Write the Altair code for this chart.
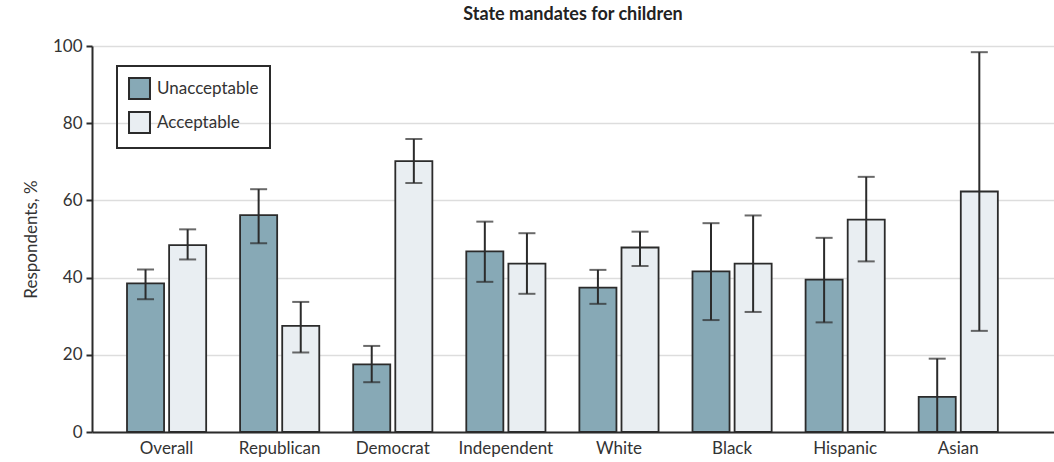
import altair as alt
import pandas as pd

categories = ["Overall", "Republican", "Democrat", "Independent", "White", "Black", "Hispanic", "Asian"]
series = ["Unacceptable", "Acceptable"]

unacc_val = [38.5, 56.2, 17.5, 46.8, 37.4, 41.6, 39.5, 9.1]
unacc_lo = [34.4, 48.9, 12.9, 38.9, 33.2, 29.0, 28.4, 0.0]
unacc_hi = [42.1, 62.9, 22.3, 54.5, 42.0, 54.1, 50.3, 19.0]

acc_val = [48.4, 27.5, 70.2, 43.6, 47.8, 43.6, 55.0, 62.3]
acc_lo = [44.7, 20.6, 64.5, 35.8, 43.0, 31.1, 44.2, 26.2]
acc_hi = [52.5, 33.7, 75.9, 51.5, 51.9, 56.1, 66.1, 98.4]

rows = []
for i, c in enumerate(categories):
    rows.append({"cat": c, "series": series[0], "value": unacc_val[i], "lo": unacc_lo[i], "hi": unacc_hi[i]})
    rows.append({"cat": c, "series": series[1], "value": acc_val[i], "lo": acc_lo[i], "hi": acc_hi[i]})
df = pd.DataFrame(rows)

FONT = "Lato"
DARK = "#2b2b2b"

x_enc = alt.X("cat:N", sort=categories, title=None,
              scale=alt.Scale(paddingInner=0.30, paddingOuter=0.403, align=0.384),
              axis=alt.Axis(labelAngle=0, ticks=False, domainColor=DARK, domainWidth=2,
                            labelFontSize=17, labelColor="#333333", labelPadding=8,
                            labelFont=FONT, grid=False))
xo_enc = alt.XOffset("series:N", sort=series,
                     scale=alt.Scale(domain=series, paddingInner=0.12, paddingOuter=0))

y_scale = alt.Scale(domain=[0, 100], nice=False)

bars = alt.Chart(df).mark_bar(stroke=DARK, strokeWidth=1.8).encode(
    x=x_enc,
    xOffset=xo_enc,
    y=alt.Y("value:Q", scale=y_scale, title="Respondents, %",
            axis=alt.Axis(values=[0, 20, 40, 60, 80, 100], grid=True, gridColor="#dddddd",
                          gridWidth=1.5, domainColor=DARK, domainWidth=2, tickColor=DARK,
                          tickWidth=2, tickSize=6, labelFontSize=17, labelColor="#333333",
                          labelFont=FONT, labelPadding=4, titleFont=FONT, titleFontSize=17,
                          titleFontWeight="normal", titleColor="#333333", titlePadding=12)),
    color=alt.Color("series:N", sort=series,
                    scale=alt.Scale(domain=series, range=["#87a9b6", "#e9eef2"]),
                    legend=alt.Legend(title=None, orient="none", legendX=25, legendY=20,
                                      strokeColor=DARK, padding=11,
                                      symbolType="square", symbolSize=440,
                                      symbolStrokeColor=DARK, symbolStrokeWidth=2,
                                      symbolOpacity=1,
                                      labelFontSize=17, labelFont=FONT, labelColor="#333333",
                                      rowPadding=5, labelOffset=6)),
)

rules = alt.Chart(df).mark_rule(color=DARK, strokeWidth=2).encode(
    x=alt.X("cat:N", sort=categories),
    xOffset=xo_enc,
    y=alt.Y("lo:Q", scale=y_scale),
    y2="hi:Q",
)

caps_hi = alt.Chart(df).mark_tick(color=DARK, thickness=2, size=17).encode(
    x=alt.X("cat:N", sort=categories),
    xOffset=xo_enc,
    y=alt.Y("hi:Q", scale=y_scale),
)
caps_lo = alt.Chart(df).mark_tick(color=DARK, thickness=2, size=17).encode(
    x=alt.X("cat:N", sort=categories),
    xOffset=xo_enc,
    y=alt.Y("lo:Q", scale=y_scale),
)

chart = alt.layer(bars, rules, caps_hi, caps_lo).properties(
    width=962, height=386,
    title=alt.TitleParams("State mandates for children", fontSize=18, fontWeight="bold",
                          font=FONT, color="#222222", offset=13, anchor="middle"),
    autosize=alt.AutoSizeParams(type="none"),
    padding={"left": 92, "top": 46, "right": 0, "bottom": 30},
).configure_view(stroke=None).configure_legend(strokeWidth=2)

chart.save("out.html", embed_options={"renderer": "svg", "actions": False})
